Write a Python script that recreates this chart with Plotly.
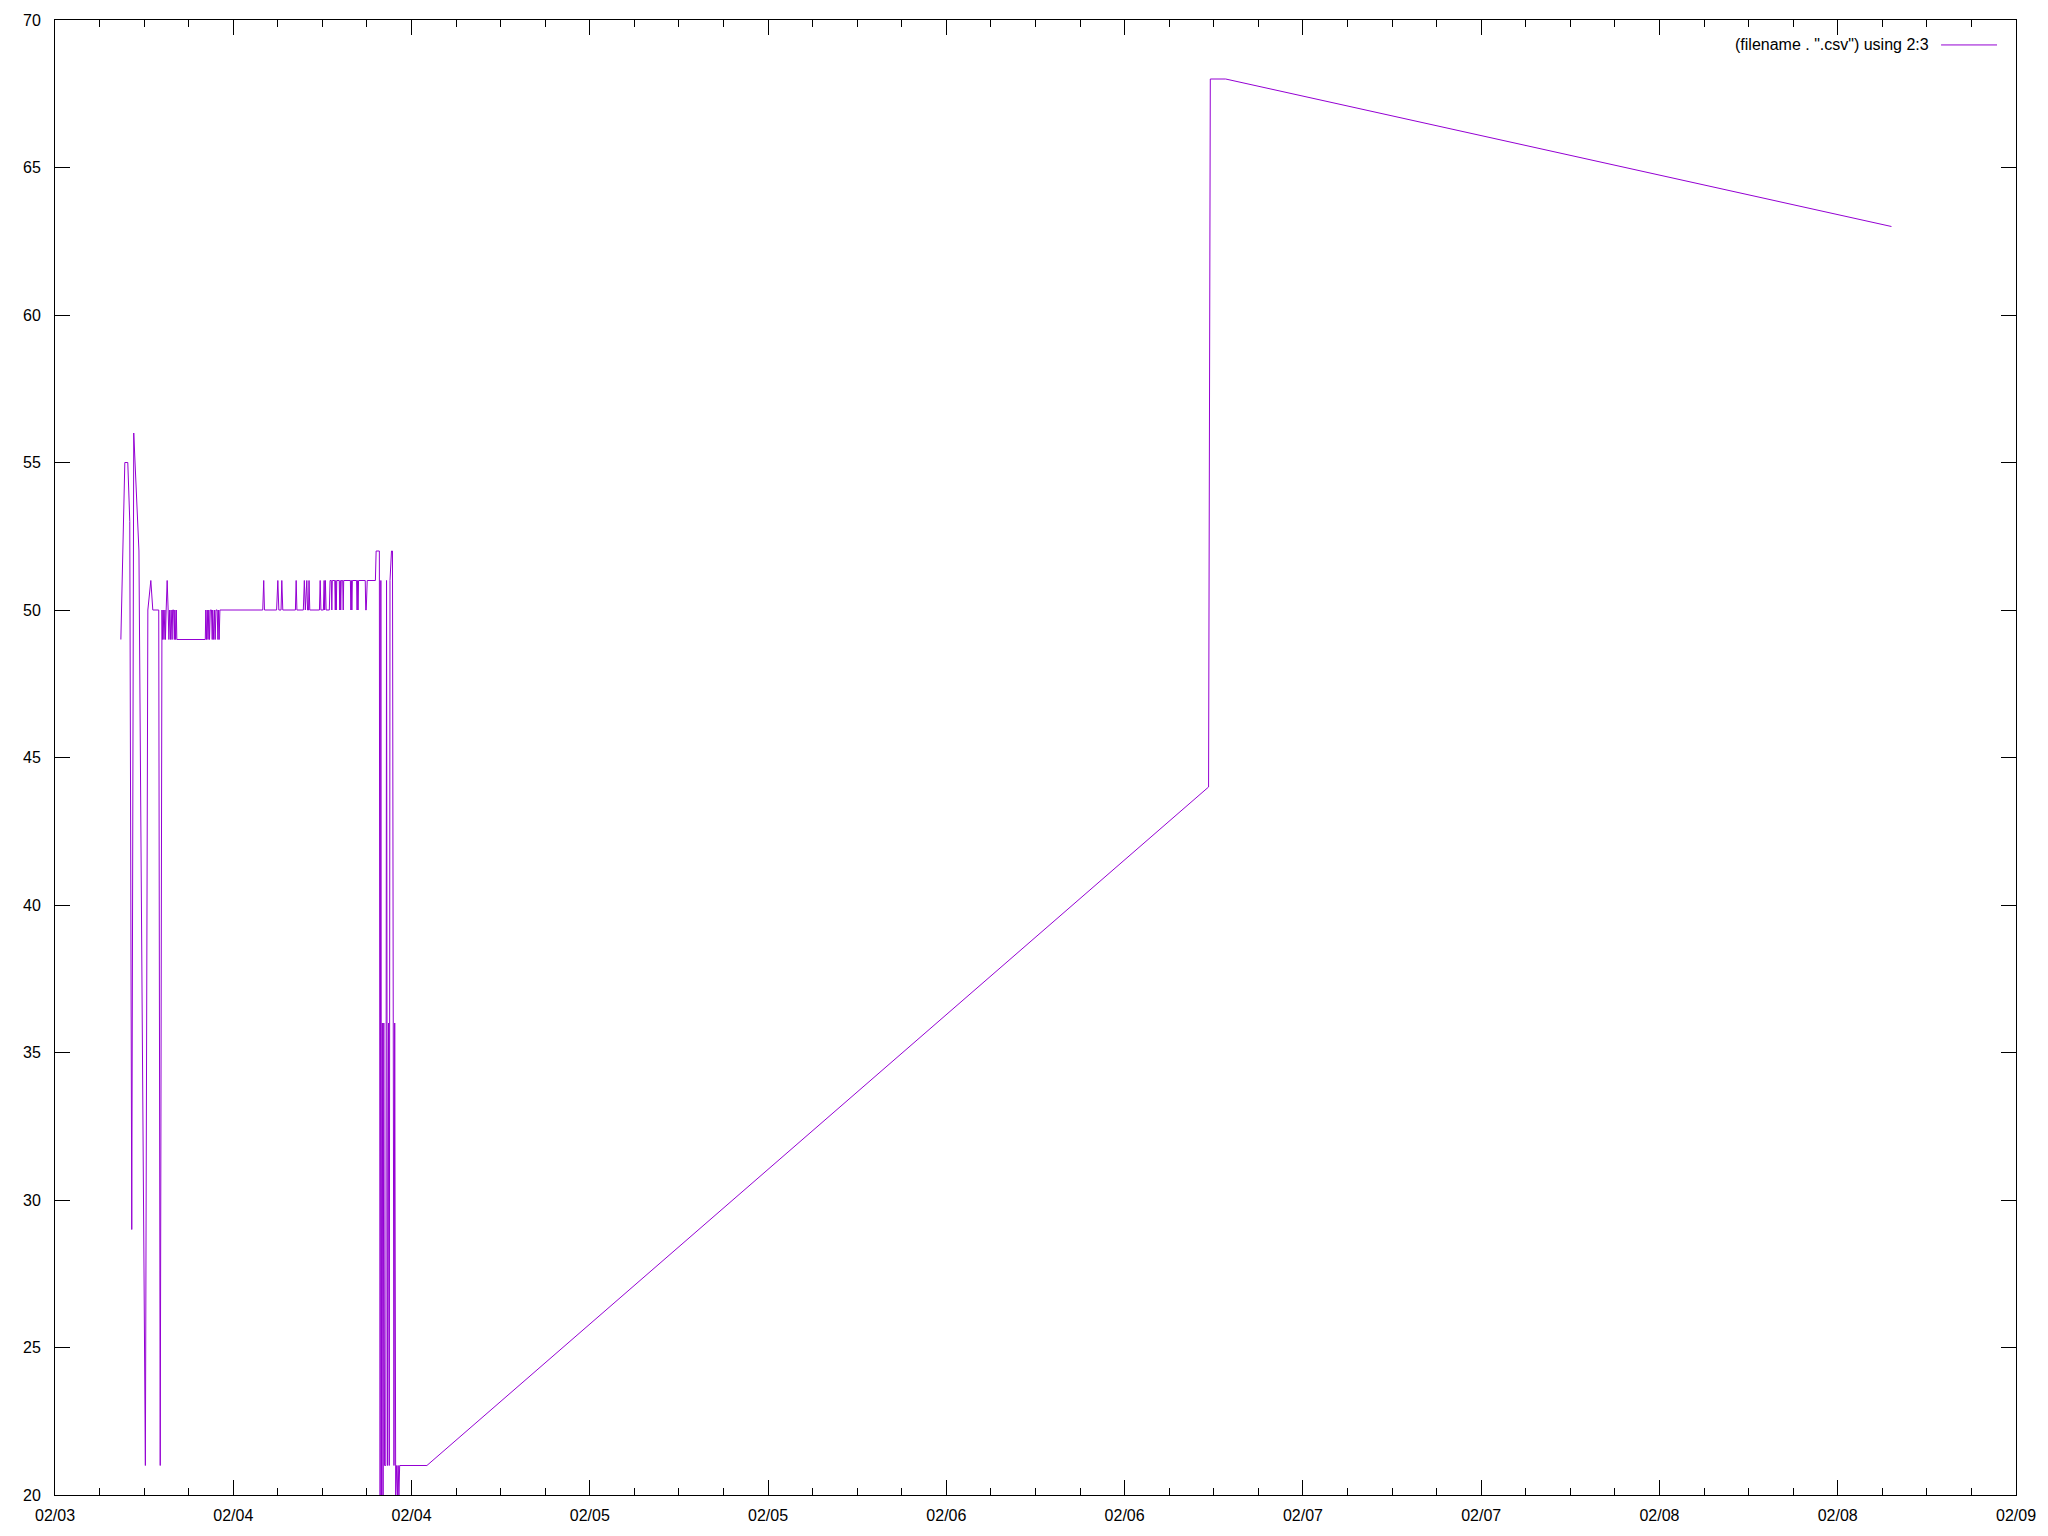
import pandas as pd
import plotly.graph_objects as go

# Time column: minutes after 2023-02-03 16:00 ; value column
START = "2023-02-03 16:00"
minutes = [
    26, 42, 54, 62, 70, 78, 99, 125, 135, 147, 155, 179, 185, 189, 192,
    194, 197, 200, 204, 206, 209, 213, 217, 220, 223, 227, 229, 233, 235, 239, 242, 244, 247, 250, 252,
    367, 369, 372, 375, 378, 381, 384, 387, 392, 395, 397, 401, 404, 407, 410, 415, 418, 420, 423, 426,
    599, 603, 606,
    655, 660, 664,
    673, 676, 680,
    731, 734, 737,
    763, 767, 771,
    777, 780, 784, 786, 789,
    828, 831, 834,
    844, 847, 849, 852, 855, 868, 871,
    876, 878, 880,
    890, 892, 894, 896, 898,
    908, 910, 912, 914, 916,
    922, 924, 926,
    953, 955, 957, 959, 961,
    978, 980, 982, 984, 986,
    1013, 1015, 1017, 1021,
    1054, 1057, 1067,
    1070, 1073, 1076, 1079, 1082, 1085, 1088, 1091,
    1096, 1099, 1103, 1107, 1110, 1113, 1119, 1123, 1126, 1129, 1132, 1136, 1140, 1143, 1146, 1149, 1152,
    1262, 4419, 4426, 4488, 7177,
]
values = [
    49, 55, 55, 53, 29, 56, 52, 21, 50, 51, 50, 50, 21, 35, 50,
    49, 50, 49, 50, 49, 50, 51, 50, 49, 50, 49, 50, 49, 50, 50, 49, 50, 49, 50, 49,
    49, 50, 49, 50, 49, 50, 49, 50, 50, 49, 50, 49, 50, 49, 50, 50, 49, 50, 49, 50,
    50, 51, 50,
    50, 51, 50,
    50, 51, 50,
    50, 51, 50,
    50, 51, 50,
    51, 50, 50, 51, 50,
    50, 51, 50,
    50, 51, 50, 51, 50, 50, 51,
    51, 50, 51,
    51, 50, 51, 50, 51,
    51, 50, 51, 50, 51,
    51, 50, 51,
    51, 50, 51, 50, 51,
    51, 50, 51, 50, 51,
    51, 50, 50, 51,
    51, 52, 52,
    52, 20, 51, 20, 36, 20, 36, 21,
    21, 51, 21, 36, 21, 51, 52, 52, 36, 21, 36, 20, 21, 20, 21, 20, 21,
    21, 44, 68, 68, 63,
]
series_name = '(filename . ".csv") using 2:3'

x_range = ["2023-02-03 12:00", "2023-02-09 00:00"]
y_range = [20, 70]

times = pd.Timestamp(START) + pd.to_timedelta(minutes, unit="m")

COLOR = "#9400D3"
FONT = "Liberation Sans, Arial, sans-serif"

fig = go.Figure()
fig.add_trace(go.Scatter(x=times, y=values, mode="lines", name=series_name,
                         line=dict(color=COLOR, width=1), showlegend=False))

fig.update_layout(
    width=2048, height=1536,
    margin=dict(l=55, r=30, t=19, b=39),
    paper_bgcolor="white", plot_bgcolor="white",
    font=dict(family=FONT, size=16, color="black"),
    showlegend=False,
)
fig.update_xaxes(
    type="date", range=x_range,
    tick0="2023-02-03 12:00", dtick=12 * 3600 * 1000, tickformat="%m/%d",
    ticks="inside", ticklen=15, tickwidth=1, tickcolor="black",
    showline=True, linecolor="black", linewidth=1, mirror="allticks",
    showgrid=False, zeroline=False, ticklabelstandoff=6,
    minor=dict(dtick=3 * 3600 * 1000, ticks="inside", ticklen=7, tickwidth=1,
               tickcolor="black", showgrid=False),
)
fig.update_yaxes(
    range=y_range, tick0=20, dtick=5,
    ticks="inside", ticklen=15, tickwidth=1, tickcolor="black",
    showline=True, linecolor="black", linewidth=1, mirror="allticks",
    showgrid=False, zeroline=False, ticklabelstandoff=10,
)

# key (gnuplot style: text then line sample)
fig.add_annotation(xref="paper", yref="paper", x=(1933 - 55) / 1963, y=(1497 - 44) / 1478,
                   xanchor="right", yanchor="middle", showarrow=False,
                   text=series_name, font=dict(family=FONT, size=16, color="black"))
fig.add_shape(type="line", xref="paper", yref="paper",
              x0=(1943 - 55) / 1963, x1=(1999 - 55) / 1963,
              y0=(1497 - 44) / 1478, y1=(1497 - 44) / 1478,
              line=dict(color=COLOR, width=1))

fig.write_html("out.html", config={"displayModeBar": False},
               post_script="document.body.style.margin='0';document.body.style.overflow='hidden';")
